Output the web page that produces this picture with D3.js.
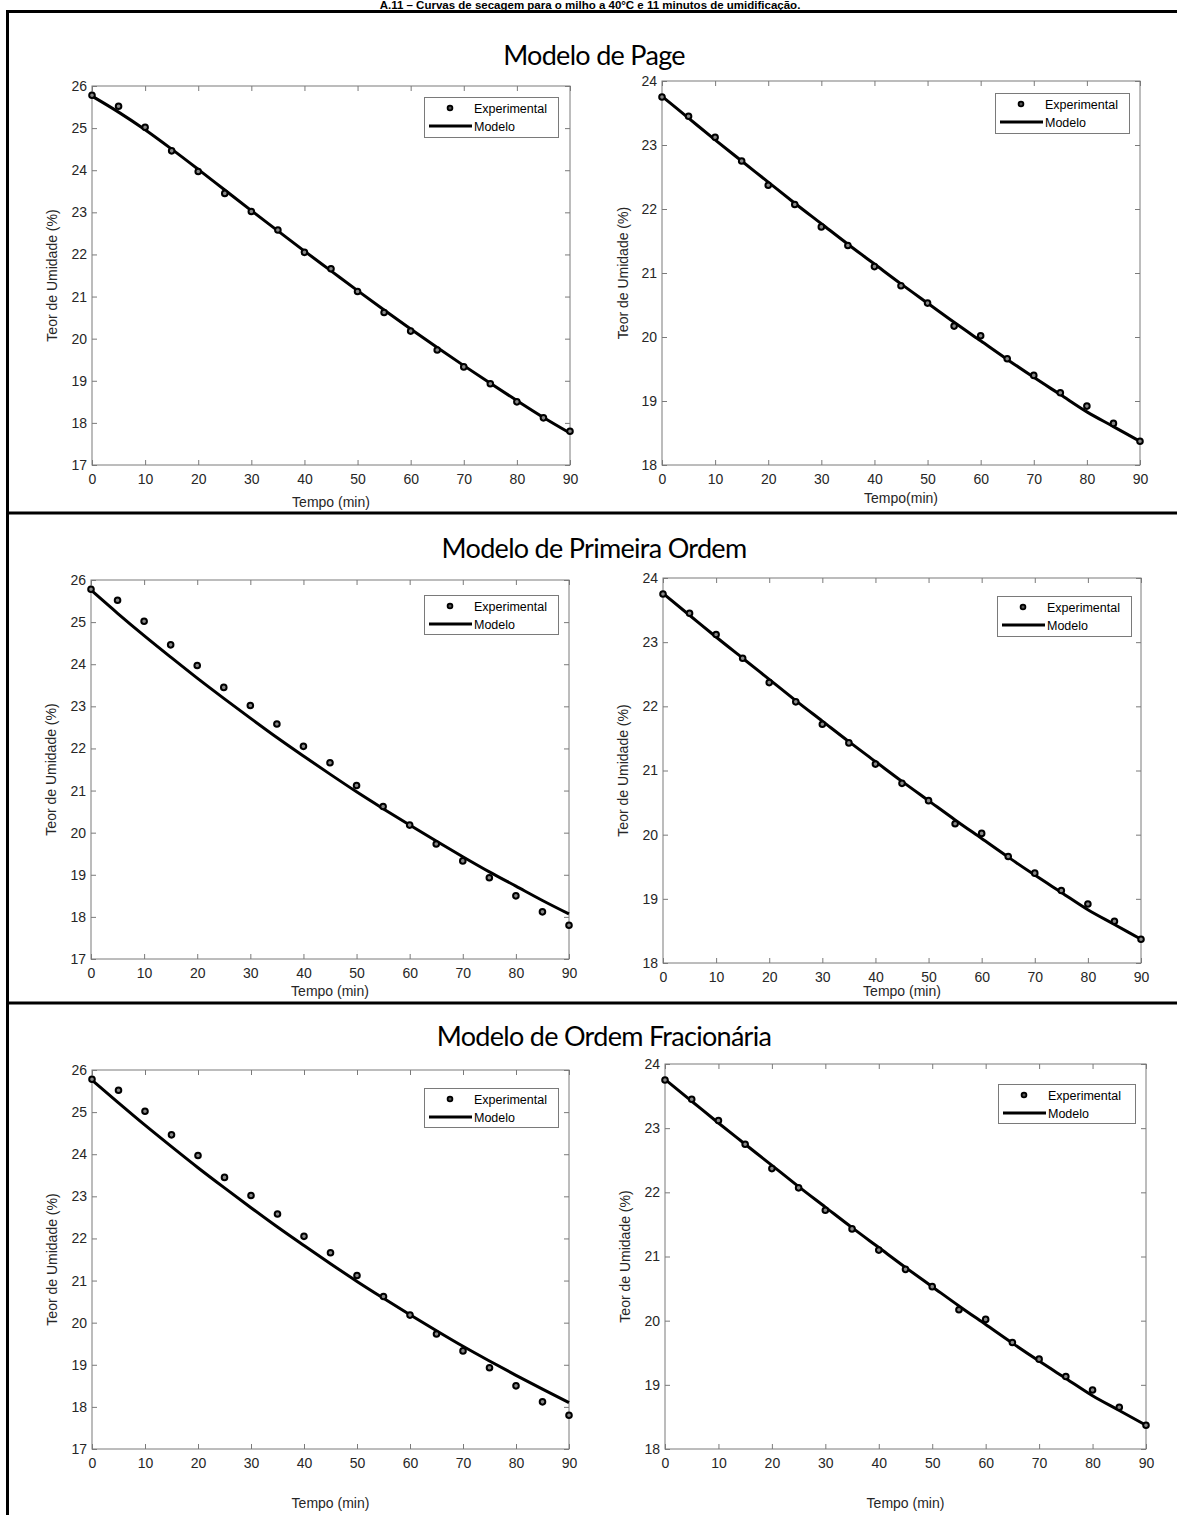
<!DOCTYPE html>
<html>
<head>
<meta charset="utf-8">
<script src="https://cdn.jsdelivr.net/npm/d3@7"></script>
<style>
  body { margin: 0; background: #fff; }
  svg { display: block; }
</style>
</head>
<body>
<div class="chart"></div>
<script>
// data
const tempo = [0, 5, 10, 15, 20, 25, 30, 35, 40, 45, 50, 55, 60, 65, 70, 75, 80, 85, 90];
const xTicks = [0, 10, 20, 30, 40, 50, 60, 70, 80, 90];

const expLeft  = [25.78, 25.52, 25.02, 24.46, 23.97, 23.45, 23.02, 22.58, 22.05, 21.66, 21.12, 20.62, 20.18, 19.73, 19.33, 18.93, 18.50, 18.12, 17.80];
const expRight = [23.75, 23.45, 23.12, 22.75, 22.37, 22.07, 21.72, 21.43, 21.10, 20.80, 20.53, 20.17, 20.02, 19.66, 19.40, 19.13, 18.92, 18.65, 18.37];

const pageLeft  = [25.76, 25.38, 24.96, 24.50, 24.02, 23.53, 23.04, 22.56, 22.08, 21.61, 21.14, 20.68, 20.23, 19.79, 19.36, 18.94, 18.53, 18.13, 17.76];
const pageRight = [23.76, 23.42, 23.08, 22.75, 22.42, 22.09, 21.77, 21.45, 21.14, 20.83, 20.53, 20.23, 19.94, 19.65, 19.37, 19.10, 18.83, 18.60, 18.37];

const primLeft  = [25.76, 25.21, 24.68, 24.17, 23.67, 23.19, 22.72, 22.26, 21.82, 21.39, 20.97, 20.57, 20.18, 19.80, 19.43, 19.07, 18.73, 18.39, 18.07];
const primRight = [23.76, 23.42, 23.08, 22.75, 22.42, 22.09, 21.77, 21.45, 21.14, 20.83, 20.53, 20.23, 19.94, 19.65, 19.37, 19.10, 18.83, 18.60, 18.37];

const fracLeft  = [25.76, 25.22, 24.69, 24.18, 23.68, 23.20, 22.73, 22.27, 21.83, 21.40, 20.98, 20.58, 20.19, 19.81, 19.44, 19.09, 18.75, 18.42, 18.10];
const fracRight = [23.76, 23.42, 23.08, 22.75, 22.42, 22.09, 21.77, 21.45, 21.14, 20.83, 20.53, 20.23, 19.94, 19.65, 19.37, 19.10, 18.83, 18.60, 18.37];

const leftYTicks  = [17, 18, 19, 20, 21, 22, 23, 24, 25, 26];
const rightYTicks = [18, 19, 20, 21, 22, 23, 24];

const sectionTitles = ["Modelo de Page", "Modelo de Primeira Ordem", "Modelo de Ordem Fracionária"];
const legendLabels = ["Experimental", "Modelo"];
const yLabel = "Teor de Umidade (%)";

// setup
const width = 1177;
const height = 1515;
const axisColor = "#7a7a7a";
const textColor = "#262626";
const fontStack = "Arial, 'Liberation Sans', sans-serif";

const svg = d3.select('.chart')
  .append('svg')
  .attr('width', width)
  .attr('height', height)
  .attr("viewBox", `0 0 ${width} ${height}`)
  .style("font-family", fontStack);

// figure caption, squeezed above the frame's top edge
svg.append("text")
  .attr("x", 590)
  .attr("y", 9)
  .attr("text-anchor", "middle")
  .attr("font-weight", "bold")
  .attr("font-size", "11.5px")
  .attr("fill", "#000")
  .text("A.11 – Curvas de secagem para o milho a 40°C e 11 minutos de umidificação.");

// frame
const frame = svg.append("g").attr("stroke", "#000").attr("stroke-width", 3);
frame.append("line").attr("x1", 6).attr("x2", width).attr("y1", 11.5).attr("y2", 11.5);
frame.append("line").attr("x1", 7.5).attr("x2", 7.5).attr("y1", 10).attr("y2", height);
frame.append("line").attr("x1", 6).attr("x2", width).attr("y1", 513).attr("y2", 513);
frame.append("line").attr("x1", 6).attr("x2", width).attr("y1", 1003).attr("y2", 1003);

// section titles
[[594, 56], [594, 549], [604, 1037]].forEach(([tx, ty], i) => {
  svg.append("text")
    .attr("x", tx)
    .attr("y", ty + 9)
    .attr("text-anchor", "middle")
    .attr("font-family", "Lato, 'Open Sans', sans-serif")
    .attr("font-size", "27px")
    .attr("letter-spacing", "-0.7px")
    .attr("fill", "#000")
    .text(sectionTitles[i]);
});

const panels = [
  { x0: 92,  x1: 570,  y0: 86,   y1: 465,  dom: [17, 26], ticks: leftYTicks,  exp: expLeft,  model: pageLeft,  xl: "Tempo (min)", xly: 507,  ylx: 57,  leg: [424, 97, 134, 40] },
  { x0: 662, x1: 1140, y0: 81,   y1: 465,  dom: [18, 24], ticks: rightYTicks, exp: expRight, model: pageRight, xl: "Tempo(min)",  xly: 503,  ylx: 628, leg: [995, 93, 134, 40] },
  { x0: 91,  x1: 569,  y0: 580,  y1: 959,  dom: [17, 26], ticks: leftYTicks,  exp: expLeft,  model: primLeft,  xl: "Tempo (min)", xly: 996,  ylx: 56,  leg: [424, 595, 134, 39] },
  { x0: 663, x1: 1141, y0: 578,  y1: 963,  dom: [18, 24], ticks: rightYTicks, exp: expRight, model: primRight, xl: "Tempo (min)", xly: 996,  ylx: 628, leg: [997, 596, 134, 40] },
  { x0: 92,  x1: 569,  y0: 1070, y1: 1449, dom: [17, 26], ticks: leftYTicks,  exp: expLeft,  model: fracLeft,  xl: "Tempo (min)", xly: 1508, ylx: 57,  leg: [424, 1088, 134, 39] },
  { x0: 665, x1: 1146, y0: 1064, y1: 1449, dom: [18, 24], ticks: rightYTicks, exp: expRight, model: fracRight, xl: "Tempo (min)", xly: 1508, ylx: 630, leg: [998, 1084, 137, 39] }
];

panels.forEach(p => {
  const x = d3.scaleLinear().domain([0, 90]).range([p.x0, p.x1]);
  const y = d3.scaleLinear().domain(p.dom).range([p.y1, p.y0]);
  const g = svg.append("g");

  const styleAxis = sel => {
    sel.select(".domain").remove();
    sel.selectAll(".tick line").attr("stroke", axisColor);
    sel.selectAll("text").attr("fill", textColor).attr("font-size", "14px").attr("font-family", fontStack);
  };

  g.append("g").attr("transform", `translate(0,${p.y1})`)
    .call(d3.axisBottom(x).tickValues(xTicks).tickFormat(d3.format("d")).tickSizeInner(-5).tickSizeOuter(0).tickPadding(9))
    .call(styleAxis);
  g.append("g").attr("transform", `translate(0,${p.y0})`)
    .call(d3.axisTop(x).tickValues(xTicks).tickSizeInner(-5).tickSizeOuter(0).tickFormat(""))
    .call(styleAxis);
  g.append("g").attr("transform", `translate(${p.x0},0)`)
    .call(d3.axisLeft(y).tickValues(p.ticks).tickFormat(d3.format("d")).tickSizeInner(-5).tickSizeOuter(0).tickPadding(5))
    .call(styleAxis);
  g.append("g").attr("transform", `translate(${p.x1},0)`)
    .call(d3.axisRight(y).tickValues(p.ticks).tickSizeInner(-5).tickSizeOuter(0).tickFormat(""))
    .call(styleAxis);

  g.append("rect")
    .attr("x", p.x0).attr("y", p.y0)
    .attr("width", p.x1 - p.x0).attr("height", p.y1 - p.y0)
    .attr("fill", "none").attr("stroke", axisColor).attr("stroke-width", 1);

  // model line
  g.append("path")
    .datum(tempo.map((t, i) => [t, p.model[i]]))
    .attr("fill", "none")
    .attr("stroke", "#000")
    .attr("stroke-width", 3)
    .attr("d", d3.line().x(d => x(d[0])).y(d => y(d[1])).curve(d3.curveMonotoneX));

  // experimental points
  g.append("g")
    .selectAll("circle")
    .data(tempo.map((t, i) => [t, p.exp[i]]))
    .join("circle")
    .attr("cx", d => x(d[0]))
    .attr("cy", d => y(d[1]))
    .attr("r", 2.8)
    .attr("fill", "#888")
    .attr("stroke", "#000")
    .attr("stroke-width", 2);

  // axis labels
  g.append("text")
    .attr("x", (p.x0 + p.x1) / 2)
    .attr("y", p.xly)
    .attr("text-anchor", "middle")
    .attr("font-size", "14px")
    .attr("fill", textColor)
    .text(p.xl);
  g.append("text")
    .attr("transform", `translate(${p.ylx},${(p.y0 + p.y1) / 2}) rotate(-90)`)
    .attr("text-anchor", "middle")
    .attr("font-size", "14px")
    .attr("fill", textColor)
    .text(yLabel);

  // legend
  const [lx, ly, lw, lh] = p.leg;
  const leg = g.append("g").attr("transform", `translate(${lx},${ly})`);
  leg.append("rect").attr("x", 0.5).attr("y", 0.5).attr("width", lw).attr("height", lh)
    .attr("fill", "#fff").attr("stroke", axisColor).attr("stroke-width", 1);
  leg.append("circle").attr("cx", 26).attr("cy", 11).attr("r", 2.4)
    .attr("fill", "#555").attr("stroke", "#000").attr("stroke-width", 1.8);
  leg.append("line").attr("x1", 5).attr("x2", 48).attr("y1", 29).attr("y2", 29)
    .attr("stroke", "#000").attr("stroke-width", 3);
  leg.append("text").attr("x", 50).attr("y", 15.5).attr("font-size", "12.5px").attr("fill", "#000").text(legendLabels[0]);
  leg.append("text").attr("x", 50).attr("y", 33.5).attr("font-size", "12.5px").attr("fill", "#000").text(legendLabels[1]);
});
</script>
</body>
</html>
